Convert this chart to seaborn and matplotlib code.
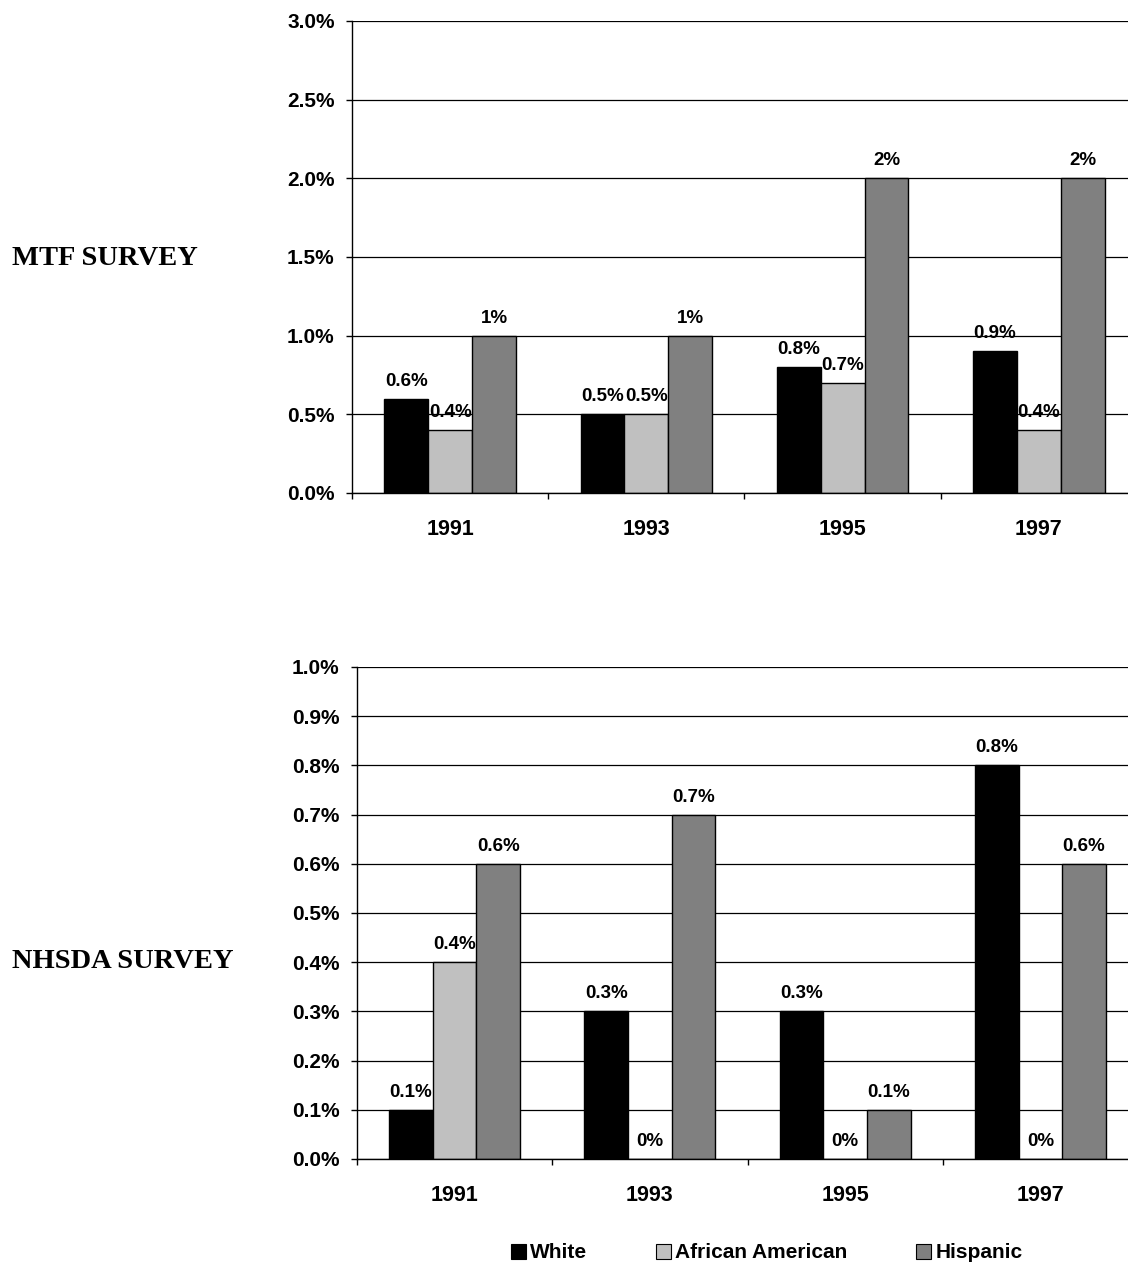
import matplotlib
matplotlib.use("Agg")
import matplotlib.pyplot as plt
import pandas as pd
import seaborn as sns
from matplotlib.patches import Patch
from matplotlib.ticker import FixedLocator, FuncFormatter

# ---- data (percent of respondents) ----
years = ["1991", "1993", "1995", "1997"]
groups = ["White", "African American", "Hispanic"]

mtf_white = [0.6, 0.5, 0.8, 0.9]
mtf_african_american = [0.4, 0.5, 0.7, 0.4]
mtf_hispanic = [1.0, 1.0, 2.0, 2.0]

nhsda_white = [0.1, 0.3, 0.3, 0.8]
nhsda_african_american = [0.4, 0.0, 0.0, 0.0]
nhsda_hispanic = [0.6, 0.7, 0.1, 0.6]

colors = ["#000000", "#c0c0c0", "#808080"]

sns.set_theme(style="white")
plt.rcParams["font.family"] = ["Liberation Sans", "DejaVu Sans"]
plt.rcParams["text.color"] = "black"
plt.rcParams["xtick.color"] = "black"
plt.rcParams["ytick.color"] = "black"
plt.rcParams["axes.labelcolor"] = "black"

W, H = 1128, 1268
fig = plt.figure(figsize=(W / 100, H / 100), dpi=100)


def long_frame(series):
    rows = []
    for g, vals in zip(groups, series):
        for y, v in zip(years, vals):
            rows.append({"year": y, "group": g, "pct": v})
    return pd.DataFrame(rows)


def draw(ax, series, ymax, ystep):
    df = long_frame(series)
    sns.barplot(data=df, x="year", y="pct", hue="group", order=years,
                hue_order=groups, palette=colors, saturation=1, width=0.67,
                edgecolor="black", linewidth=1.0, ax=ax, legend=False,
                errorbar=None, zorder=3)
    for container, vals in zip(ax.containers, series):
        ax.bar_label(container, labels=[f"{v:g}%" for v in vals], padding=6.5,
                     fontsize=13.5, fontweight="bold", color="black", zorder=4)

    ax.set_xlim(-0.5, 3.5)
    ax.set_ylim(0, ymax)
    n = int(round(ymax / ystep))
    ax.set_yticks([i * ystep for i in range(n + 1)])
    ax.yaxis.set_major_formatter(FuncFormatter(lambda v, p: f"{v:.1f}%"))
    ax.yaxis.grid(True, color="black", linewidth=0.9)
    ax.set_axisbelow(True)

    ax.xaxis.set_minor_locator(FixedLocator([-0.5, 0.5, 1.5, 2.5, 3.5]))
    ax.tick_params(axis="x", which="major", length=0, pad=19, labelsize=15.5)
    ax.tick_params(axis="x", which="minor", length=4.5, width=1.0,
                   direction="out", color="black", bottom=True)
    ax.tick_params(axis="y", which="major", length=4.5, width=1.0,
                   direction="out", pad=8, labelsize=15, left=True)
    for lab in ax.get_xticklabels() + ax.get_yticklabels():
        lab.set_fontweight("bold")

    ax.set_xlabel("")
    ax.set_ylabel("")
    for side in ("top", "right"):
        ax.spines[side].set_visible(False)
    for side in ("left", "bottom"):
        ax.spines[side].set_color("black")
        ax.spines[side].set_linewidth(1.0)
        ax.spines[side].set_zorder(5)


# MTF panel
ax1 = fig.add_axes([352 / W, 1 - 493 / H, 785 / W, (493 - 21) / H])
draw(ax1, [mtf_white, mtf_african_american, mtf_hispanic], 3.0, 0.5)

# NHSDA panel
ax2 = fig.add_axes([357 / W, 1 - 1159 / H, 781 / W, (1159 - 667) / H])
draw(ax2, [nhsda_white, nhsda_african_american, nhsda_hispanic], 1.0, 0.1)

serif = ["Liberation Serif", "DejaVu Serif"]
fig.text(12 / W, 1 - 258 / H, "MTF SURVEY", ha="left", va="center",
         fontsize=20.5, fontweight="bold", family=serif)
fig.text(12 / W, 1 - 962 / H, "NHSDA SURVEY", ha="left", va="center",
         fontsize=20.5, fontweight="bold", family=serif)

handles = [Patch(facecolor=c, edgecolor="black", linewidth=0.8) for c in colors]
leg = fig.legend(handles=handles, labels=groups, ncol=3, frameon=False,
                 loc="center", bbox_to_anchor=(767 / W, 1 - 1253 / H),
                 handlelength=0.72, handleheight=0.72, handletextpad=0.2,
                 columnspacing=3.3, borderpad=0, borderaxespad=0,
                 prop={"size": 15, "weight": "bold"})

fig.savefig("out.png", dpi=100)
